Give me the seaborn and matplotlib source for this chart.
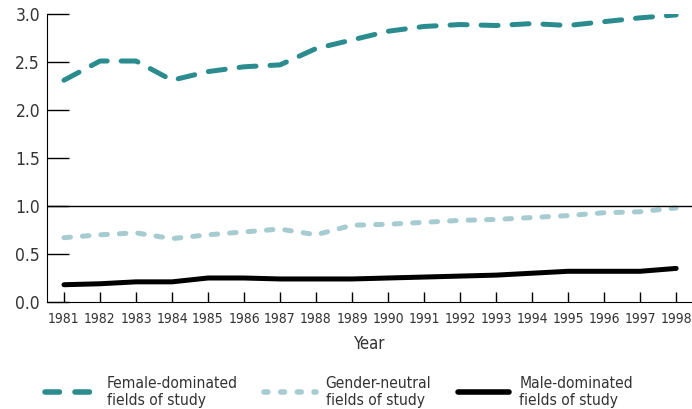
import seaborn as sns
import matplotlib.pyplot as plt
import pandas as pd
from matplotlib import font_manager

years = list(range(1981, 1999))
female = [2.31, 2.51, 2.51, 2.31, 2.40, 2.45, 2.47, 2.64, 2.73, 2.82, 2.87, 2.89, 2.88, 2.90, 2.88, 2.92, 2.96, 2.99]
neutral = [0.67, 0.70, 0.72, 0.66, 0.70, 0.73, 0.76, 0.70, 0.80, 0.81, 0.83, 0.85, 0.86, 0.88, 0.90, 0.93, 0.94, 0.98]
male = [0.18, 0.19, 0.21, 0.21, 0.25, 0.25, 0.24, 0.24, 0.24, 0.25, 0.26, 0.27, 0.28, 0.30, 0.32, 0.32, 0.32, 0.35]
labels = ["Female-dominated\nfields of study", "Gender-neutral\nfields of study", "Male-dominated\nfields of study"]
colors = ["#2a8c8f", "#a6cbd0", "#000000"]

sns.set_style("white")
# look for a condensed face; fall back to DejaVu Sans
cond = [(f.name, f.stretch) for f in font_manager.fontManager.ttflist
        if ("Condensed" in f.name or "Narrow" in f.name
            or str(f.stretch) in ("condensed", "semi-condensed", "extra-condensed"))]
if cond:
    fam, stretch = cond[0]
    plt.rcParams["font.family"] = [fam, "DejaVu Sans"]
    plt.rcParams["font.stretch"] = stretch
    scale = 1.0
else:
    plt.rcParams["font.family"] = ["DejaVu Sans"]
    scale = 0.85

df = pd.DataFrame({
    "Year": years * 3,
    "value": female + neutral + male,
    "series": [labels[0]] * 18 + [labels[1]] * 18 + [labels[2]] * 18,
})

fig = plt.figure(figsize=(6.92, 4.09), dpi=100)
ax = fig.add_axes([0.068, 0.2616, 0.932, 0.7042])

dashes = {labels[0]: (3.4, 2.8), labels[1]: (1.3, 2.4), labels[2]: ""}
sns.lineplot(data=df, x="Year", y="value", hue="series", style="series",
             palette=dict(zip(labels, colors)), dashes=dashes, linewidth=3.6,
             ax=ax, legend=False)
for ln in ax.get_lines():
    ln.set_dash_capstyle("round")
    ln.set_solid_capstyle("round")

ax.axhline(1.0, color="black", lw=1)
ax.set_xlim(1980.53, 1998.44)
ax.set_ylim(0, 3.0)
ax.set_xticks(years)
ax.set_yticks([0, 0.5, 1.0, 1.5, 2.0, 2.5, 3.0])
ax.set_yticklabels(["0.0", "0.5", "1.0", "1.5", "2.0", "2.5", "3.0"])
ax.tick_params(axis="y", left=True, direction="in", length=16, width=1,
               color="black", labelsize=12.5 * scale, pad=5)
ax.tick_params(axis="x", bottom=True, direction="in", length=7, width=1,
               color="black", labelsize=10 * scale, pad=7)
for lab in ax.get_yticklabels() + ax.get_xticklabels():
    lab.set_color("#333333")
sns.despine(ax=ax, top=True, right=True)
ax.spines["left"].set_color("black")
ax.spines["bottom"].set_color("black")
ax.set_xlabel("Year", fontsize=12 * scale, color="#333333")
ax.xaxis.set_label_coords(0.50, -0.113)
ax.set_ylabel("")

handles = [plt.Line2D([], [], color=c, lw=4, dashes=d if d else (None, None),
                      dash_capstyle="round", solid_capstyle="round")
           for c, d in zip(colors, [(2.6, 2.8), (0.7, 2.3), ""])]
leg = fig.legend(handles, labels, loc="lower left", bbox_to_anchor=(0.061, -0.005),
                 ncol=3, frameon=False, handlelength=3.3, columnspacing=1.7,
                 fontsize=11.2 * scale, labelcolor="#333333", handletextpad=0.65,
                 borderpad=0.2, borderaxespad=0.0)
plt.savefig("out.png", dpi=100)
